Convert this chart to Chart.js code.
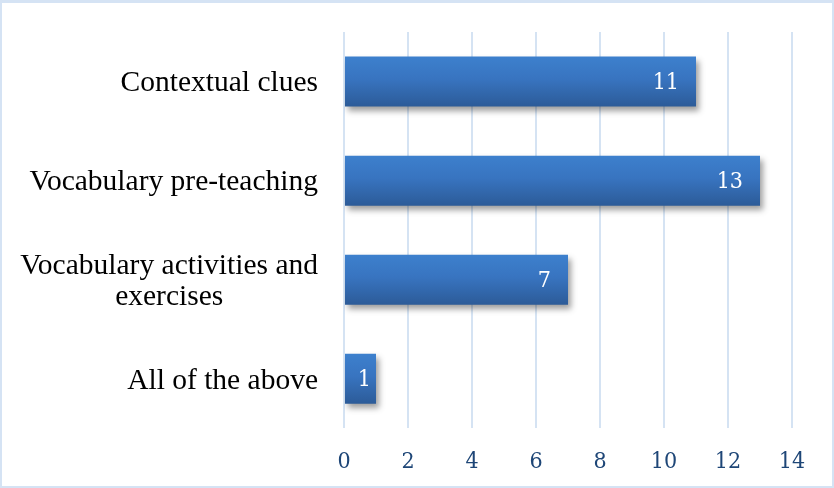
<!DOCTYPE html>
<html>
<head>
<meta charset="utf-8">
<script src="https://cdn.jsdelivr.net/npm/chart.js@4.4.0/dist/chart.umd.min.js"></script>
<style>
  html, body { margin: 0; padding: 0; background: #fff; }
  #wrap { position: relative; width: 834px; height: 488px; box-sizing: border-box; border: 2px solid #d5e3f4; border-top-width: 3px; overflow: hidden; }
  canvas { position: absolute; left: 0; top: 0; }
</style>
</head>
<body>
<div id="wrap"><canvas id="chart" width="830" height="493"></canvas></div>
<script>
const categories = [
  ["Contextual clues"],
  ["Vocabulary pre-teaching"],
  ["Vocabulary activities and", "exercises"],
  ["All of the above"]
];
const values = [11, 13, 7, 1];
const xTicks = [0, 2, 4, 6, 8, 10, 12, 14];

/* ---------- shadow under the bars ---------- */
const shadowPlugin = {
  id: "barShadow",
  beforeDatasetsDraw(chart) {
    const c = chart.ctx;
    c.save();
    c.shadowColor = "rgba(0,0,0,0.38)";
    c.shadowBlur = 6;
    c.shadowOffsetX = 3;
    c.shadowOffsetY = 4;
  },
  afterDatasetsDraw(chart) {
    chart.ctx.restore();
  }
};

/* ---------- category + value labels ---------- */
const labelPlugin = {
  id: "labels",
  afterDraw(chart) {
    const c = chart.ctx;
    const yScale = chart.scales.y;
    c.save();

    c.fillStyle = "#000";
    c.font = "29.5px 'Liberation Serif'";
    c.textBaseline = "middle";
    c.textAlign = "center";
    const rightEdge = chart.chartArea.left - 26;
    const lineH = 31;
    categories.forEach((lines, i) => {
      const yc = yScale.getPixelForValue(i) + 2;
      const maxW = Math.max(...lines.map(l => c.measureText(l).width));
      lines.forEach((l, j) => {
        const y = yc + (j - (lines.length - 1) / 2) * lineH;
        c.fillText(l, rightEdge - maxW / 2, y);
      });
    });

    c.fillStyle = "#fff";
    c.font = "23px 'DejaVu Serif Condensed'";
    c.textAlign = "right";
    const meta = chart.getDatasetMeta(0);
    meta.data.forEach((bar, i) => {
      const txt = String(values[i]);
      const w = c.measureText(txt).width;
      let x = bar.x - 17;
      if (x - w < bar.base + 6) x = bar.x - 5;
      c.fillText(txt, x, bar.y + 1);
    });
    c.restore();
  }
};

const ctx = document.getElementById("chart").getContext("2d");

new Chart(ctx, {
  type: "bar",
  data: {
    labels: categories.map(l => l.join(" ")),
    datasets: [{
      data: values,
      backgroundColor: (context) => {
        const chart = context.chart;
        if (!chart.chartArea) return "#3772bb";
        const y = chart.scales.y.getPixelForValue(context.dataIndex);
        const g = chart.ctx.createLinearGradient(0, y - 25, 0, y + 25);
        g.addColorStop(0, "#3d80cd");
        g.addColorStop(0.45, "#3874c0");
        g.addColorStop(1, "#2c5b98");
        return g;
      },
      borderWidth: 0,
      barPercentage: 0.505,
      categoryPercentage: 1.0
    }]
  },
  options: {
    indexAxis: "y",
    responsive: false,
    animation: false,
    layout: { padding: { left: 334, right: 40, top: 29, bottom: 0 } },
    plugins: {
      legend: { display: false },
      tooltip: { enabled: false }
    },
    scales: {
      x: {
        min: 0,
        max: 14,
        afterBuildTicks: (axis) => { axis.ticks = xTicks.map(v => ({ value: v })); },
        grid: { color: "#d5e3f3", lineWidth: 2, drawTicks: false },
        border: { display: false },
        ticks: {
          color: "#1e4677",
          font: { family: "'DejaVu Serif Condensed'", size: 23 },
          padding: 20
        }
      },
      y: {
        grid: { display: false },
        border: { display: false },
        ticks: { display: false }
      }
    }
  },
  plugins: [shadowPlugin, labelPlugin]
});
</script>
</body>
</html>
